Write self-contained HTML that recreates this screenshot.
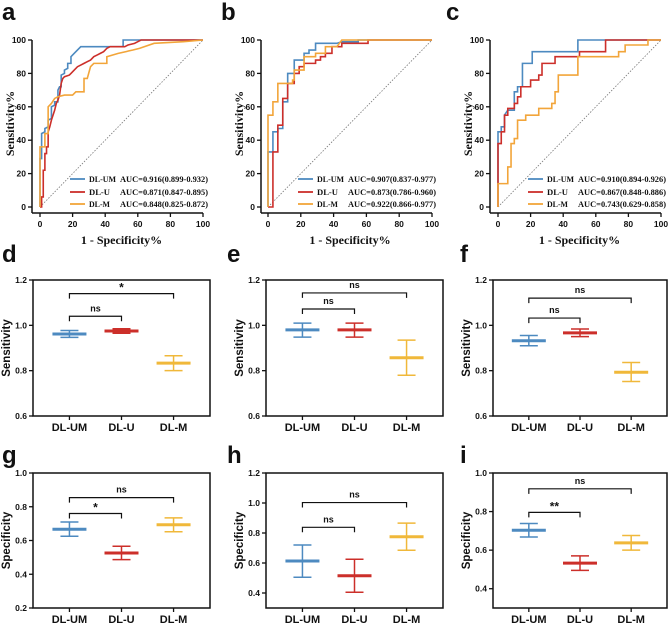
<!DOCTYPE html>
<html><head><meta charset="utf-8"><style>
html,body{margin:0;padding:0;background:#fff}
svg{display:block}
.serif{font-family:"Liberation Serif",serif;font-weight:bold}
.sans{font-family:"Liberation Sans",sans-serif;font-weight:bold}
</style></head><body>
<svg id="fig" width="669" height="625" viewBox="0 0 669 625" xmlns="http://www.w3.org/2000/svg"></svg>
<script>
// ---------- ROC data (FPR %, TPR %) ----------
const rocA_UM=[[0,0],[0,29],[1,29],[1,44],[3,45],[3,47],[5,48],[5,52],[7,53],[7,60],[9,61],[9,63],[11,63],[11,70],[12,72],[13,72],[13,79],[15,80],[15,82],[17,83],[17,86],[19,86],[19,90],[21,92],[25,96],[51,96],[51,100],[100,100]];
const rocA_U=[[0,0],[1,0],[1,6],[2,6],[2,22],[3,22],[3,32],[4,32],[4,36],[5,36],[5,45],[6,48],[7,52],[8,55],[9,58],[10,62],[11,64],[12,67],[13,74],[14,77],[15,78],[18,79],[19,80],[21,82],[23,84],[25,85],[27,86],[29,87],[31,88],[33,90],[35,91],[37,92],[39,93],[41,95],[43,96],[52,96],[54,97],[58,98],[60,99],[62,100],[100,100]];
const rocA_M=[[0,0],[0,36],[3,36],[3,44],[5,44],[5,60],[7,62],[9,65],[11,66],[15,67],[20,67],[22,69],[27,69],[27,77],[29,77],[31,84],[33,86],[41,86],[41,90],[48,92],[57,94],[61,95],[70,98],[88,99],[100,100]];
const rocB_UM=[[0,0],[0,33],[3,33],[3,45],[6,45],[6,47],[9,47],[9,63],[12,63],[12,80],[16,80],[16,88],[22,88],[22,92],[25,92],[25,94],[29,94],[29,98],[42,98],[45,99],[55,99],[55,100],[100,100]];
const rocB_U=[[0,0],[3,0],[3,33],[6,33],[6,49],[9,49],[9,65],[12,65],[12,74],[16,74],[16,80],[19,80],[19,84],[22,84],[22,86],[29,86],[29,88],[32,88],[32,90],[35,90],[35,92],[39,92],[39,96],[45,96],[45,98],[61,98],[61,100],[100,100]];
const rocB_M=[[0,0],[0,55],[3,55],[3,63],[6,63],[6,74],[15,74],[15,76],[16,76],[16,82],[22,82],[22,90],[29,90],[29,92],[35,92],[35,96],[42,96],[45,100],[100,100]];
const rocC_UM=[[0,0],[0,45],[2,45],[2,48],[4,48],[4,55],[6,58],[10,58],[10,69],[12,69],[12,72],[15,72],[15,86],[21,86],[21,93],[49,93],[49,100],[100,100]];
const rocC_U=[[0,0],[0,38],[2,38],[2,45],[4,45],[4,55],[6,55],[6,59],[10,59],[10,62],[12,62],[12,66],[14,66],[14,72],[20,72],[20,76],[25,76],[25,79],[27,79],[27,86],[35,86],[35,90],[50,90],[50,93],[66,93],[66,100],[100,100]];
const rocC_M=[[0,0],[0,14],[6,14],[6,24],[8,24],[8,38],[10,38],[10,41],[12,41],[12,52],[17,52],[17,55],[25,55],[25,59],[33,59],[33,62],[35,62],[35,69],[37,69],[37,79],[49,79],[49,90],[74,90],[74,93],[78,93],[78,97],[92,97],[92,100],[100,100]];
const rocLabels=["DL-UM","DL-U","DL-M"];
const aucA=["AUC=0.916(0.899-0.932)","AUC=0.871(0.847-0.895)","AUC=0.848(0.825-0.872)"];
const aucB=["AUC=0.907(0.837-0.977)","AUC=0.873(0.786-0.960)","AUC=0.922(0.866-0.977)"];
const aucC=["AUC=0.910(0.894-0.926)","AUC=0.867(0.848-0.886)","AUC=0.743(0.629-0.858)"];
const rocTicks=[0,20,40,60,80,100];
// ---------- Bar/error data ----------
const categories=["DL-UM","DL-U","DL-M"];
const meanD=[0.962,0.975,0.833], loD=[0.947,0.965,0.800], hiD=[0.977,0.985,0.866];
const meanE=[0.980,0.980,0.857], loE=[0.948,0.948,0.780], hiE=[1.010,1.010,0.935];
const meanF=[0.932,0.967,0.793], loF=[0.910,0.950,0.752], hiF=[0.955,0.984,0.836];
const meanG=[0.667,0.526,0.693], loG=[0.625,0.487,0.652], hiG=[0.710,0.566,0.734];
const meanH=[0.613,0.515,0.775], loH=[0.505,0.405,0.685], hiH=[0.720,0.625,0.866];
const meanI=[0.703,0.533,0.638], loI=[0.668,0.495,0.600], hiI=[0.738,0.570,0.676];
const ticksSens=[0.6,0.8,1.0,1.2];
const ticksG=[0.2,0.4,0.6,0.8,1.0];
const ticksH=[0.4,0.6,0.8,1.0,1.2];
const ticksI=[0.4,0.6,0.8,1.0];
const sigD=["ns","*"], sigE=["ns","ns"], sigF=["ns","ns"], sigG=["*","ns"], sigH=["ns","ns"], sigI=["**","ns"];
const brD=[1.04,1.14], brE=[1.072,1.143], brF=[1.032,1.12], brG=[0.76,0.854], brH=[0.838,1.003], brI=[0.796,0.918];

const NS="http://www.w3.org/2000/svg";
const svg=document.getElementById('fig');
const COL=["#4d8ac0","#cc2f2a","#f2a53a"];
const BCOL=["#4d8ac0","#cc2f2a","#f0b83a"];
function el(tag,attrs,parent,text){const e=document.createElementNS(NS,tag);for(const k in attrs)e.setAttribute(k,attrs[k]);if(text!==undefined)e.textContent=text;(parent||svg).appendChild(e);return e;}

function letter(t,x,y){const e=el('text',{x:x,y:y,class:'sans','font-size':24,fill:'#111'},svg,t);

}

function roc(id,ax,x0,x1,aucs,series){
  const g=el('g',{});
  
  
  const yTop=40,yBot=207,axisY=213;
  const sx=v=>x0+(x1-x0)*v/100, sy=v=>yBot-(yBot-yTop)*v/100;
  el('line',{x1:ax,y1:yTop,x2:ax,y2:axisY,stroke:'#111','stroke-width':1.5},g);
  el('line',{x1:ax,y1:axisY,x2:x1,y2:axisY,stroke:'#111','stroke-width':1.5},g);
  rocTicks.forEach(t=>{
    el('line',{x1:ax-4,y1:sy(t),x2:ax,y2:sy(t),stroke:'#111','stroke-width':1.3},g);
    el('text',{x:ax-6,y:sy(t)+3,'text-anchor':'end',class:'sans','font-size':8.5,fill:'#111'},g,t);
    el('line',{x1:sx(t),y1:axisY,x2:sx(t),y2:axisY+4,stroke:'#111','stroke-width':1.3},g);
    el('text',{x:sx(t),y:axisY+14,'text-anchor':'middle',class:'sans','font-size':8.5,fill:'#111'},g,t);
  });
  const yt=el('text',{x:0,y:0,transform:`translate(${ax-18},${(yTop+yBot)/2}) rotate(-90)`,'text-anchor':'middle',class:'serif','font-size':12,fill:'#111'},g,'Sensitivity%');
  
  
  const xt=el('text',{x:(x0+x1)/2,y:244,'text-anchor':'middle',class:'serif','font-size':12,fill:'#111'},g,'1 - Specificity%');
  
  
  el('line',{x1:sx(0),y1:sy(0),x2:sx(100),y2:sy(100),stroke:'#777','stroke-width':0.8,'stroke-dasharray':'1.5,1.5'},g);
  series.forEach((s,i)=>{
    const p=el('polyline',{points:s.map(d=>sx(d[0])+','+sy(d[1])).join(' '),fill:'none',stroke:COL[i],'stroke-width':1.6},g);
    
    
  });
  const lx=x0+30;
  const lw=[27,21,21];
  [179,192,204].forEach((y,i)=>{
    el('line',{x1:lx,y1:y,x2:lx+15,y2:y,stroke:COL[i],'stroke-width':1.8},g);
    const t1=el('text',{x:lx+19,y:y+3,class:'serif','font-size':8.3,fill:'#111',textLength:lw[i],lengthAdjust:'spacingAndGlyphs'},g,rocLabels[i]);
    
    
    el('text',{x:lx+50,y:y+3,class:'serif','font-size':8.3,fill:'#111',textLength:88,lengthAdjust:'spacingAndGlyphs'},g,aucs[i]);
  });
}

function bars(id,left,right,top,bot,ymin,ymax,ticks,means,los,his,title,sig,br){
  const g=el('g',{});
  
  
  const sy=v=>bot-(bot-top)*(v-ymin)/(ymax-ymin);
  const step=(right-left)/3.4;
  const cx=i=>left+step*(0.7+i);
  el('rect',{x:left,y:top,width:right-left,height:bot-top,fill:'none',stroke:'#111','stroke-width':1.5},g);
  ticks.forEach(t=>{
    el('line',{x1:left-4,y1:sy(t),x2:left,y2:sy(t),stroke:'#111','stroke-width':1.3},g);
    el('text',{x:left-6,y:sy(t)+3,'text-anchor':'end',class:'sans','font-size':8.5,fill:'#111'},g,t.toFixed(1));
  });
  const yt=el('text',{x:0,y:0,transform:`translate(${left-23},${(top+bot)/2}) rotate(-90)`,'text-anchor':'middle',class:'sans','font-size':11.5,fill:'#111'},g,title);
  
  
  categories.forEach((c,i)=>{
    el('line',{x1:cx(i),y1:bot,x2:cx(i),y2:bot+4,stroke:'#111','stroke-width':1.3},g);
    const t=el('text',{x:cx(i),y:bot+15,'text-anchor':'middle',class:'sans','font-size':11,fill:'#111'},g,c);
    
    
    const eg=el('g',{},g);
    
    
    el('line',{x1:cx(i),y1:sy(los[i]),x2:cx(i),y2:sy(his[i]),stroke:BCOL[i],'stroke-width':1.5},eg);
    el('line',{x1:cx(i)-9,y1:sy(los[i]),x2:cx(i)+9,y2:sy(los[i]),stroke:BCOL[i],'stroke-width':1.5},eg);
    el('line',{x1:cx(i)-9,y1:sy(his[i]),x2:cx(i)+9,y2:sy(his[i]),stroke:BCOL[i],'stroke-width':1.5},eg);
    el('line',{x1:cx(i)-17,y1:sy(means[i]),x2:cx(i)+17,y2:sy(means[i]),stroke:BCOL[i],'stroke-width':3},eg);
  });
  [[0,1],[0,2]].forEach((pr,k)=>{
    const y=sy(br[k]);
    const a=cx(pr[0]),b=cx(pr[1]);
    const bg=el('g',{},g);
    
    
    el('polyline',{points:`${a},${y+5} ${a},${y} ${b},${y} ${b},${y+5}`,fill:'none',stroke:'#111','stroke-width':1.2},bg);
    const isStar=sig[k].indexOf('*')>=0;
    el('text',{x:(a+b)/2,y:isStar?y-2:y-5,'text-anchor':'middle',class:'sans','font-size':isStar?12:9,fill:'#111'},bg,sig[k]);
  });
}

letter('a',2,20);letter('b',221,20);letter('c',446,20);
letter('d',2,262);letter('e',227,262);letter('f',460,262);
letter('g',2,463);letter('h',227,463);letter('i',460,463);

roc('a',32,40,203,aucA,[rocA_UM,rocA_U,rocA_M]);
roc('b',261,268,432,aucB,[rocB_UM,rocB_U,rocB_M]);
roc('c',490,498,661,aucC,[rocC_UM,rocC_U,rocC_M]);

bars('d',33,210,280,416,0.6,1.2,ticksSens,meanD,loD,hiD,'Sensitivity',sigD,brD);
bars('e',266,443,280,416,0.6,1.2,ticksSens,meanE,loE,hiE,'Sensitivity',sigE,brE);
bars('f',493,667,280,416,0.6,1.2,ticksSens,meanF,loF,hiF,'Sensitivity',sigF,brF);
bars('g',33,210,473,608,0.2,1.0,ticksG,meanG,loG,hiG,'Specificity',sigG,brG);
bars('h',266,443,473,608,0.3,1.2,ticksH,meanH,loH,hiH,'Specificity',sigH,brH);
bars('i',493,667,473,608,0.3,1.0,ticksI,meanI,loI,hiI,'Specificity',sigI,brI);
</script>
</body></html>
